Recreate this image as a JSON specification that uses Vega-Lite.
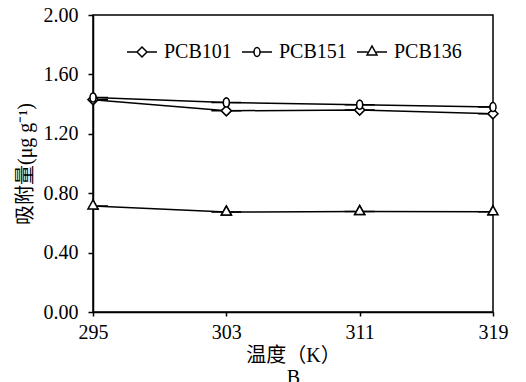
{
  "$schema": "https://vega.github.io/schema/vega-lite/v6.json",
  "width": 400,
  "height": 297,
  "autosize": "none",
  "padding": {"left": 93, "top": 15, "right": 33, "bottom": 70},
  "background": "white",
  "config": {
    "view": {"stroke": "black", "strokeWidth": 1.5},
    "font": "Times New Roman, Liberation Serif, serif",
    "axis": {
      "grid": false,
      "domainColor": "black",
      "domainWidth": 1.5,
      "tickColor": "black",
      "tickWidth": 1.5,
      "labelColor": "black",
      "titleColor": "black",
      "labelFont": "Times New Roman, Liberation Serif, serif",
      "titleFont": "Times New Roman, Liberation Serif, Noto Sans CJK SC, serif",
      "labelFontSize": 20,
      "titleFontSize": 20,
      "titleFontWeight": "normal",
      "labelFlush": false
    }
  },
  "data": {
    "values": [
      {"s": "PCB101", "T": 295, "v": 1.43},
      {"s": "PCB101", "T": 303, "v": 1.355},
      {"s": "PCB101", "T": 311, "v": 1.36},
      {"s": "PCB101", "T": 319, "v": 1.335},
      {"s": "PCB151", "T": 295, "v": 1.445},
      {"s": "PCB151", "T": 303, "v": 1.41},
      {"s": "PCB151", "T": 311, "v": 1.395},
      {"s": "PCB151", "T": 319, "v": 1.38},
      {"s": "PCB136", "T": 295, "v": 0.714},
      {"s": "PCB136", "T": 303, "v": 0.673},
      {"s": "PCB136", "T": 311, "v": 0.676},
      {"s": "PCB136", "T": 319, "v": 0.675}
    ]
  },
  "encoding": {
    "x": {
      "field": "T",
      "type": "quantitative",
      "scale": {"domain": [295, 319]},
      "axis": {
        "values": [295, 303, 311, 319],
        "title": ["温度（K）", "B"],
        "tickSize": 4,
        "labelPadding": 6,
        "titlePadding": 3,
        "titleLineHeight": 22
      }
    },
    "y": {
      "field": "v",
      "type": "quantitative",
      "scale": {"domain": [0, 2]},
      "axis": {
        "values": [0, 0.4, 0.8, 1.2, 1.6, 2.0],
        "format": ".2f",
        "title": "吸附量(μg g⁻¹)",
        "tickSize": 5,
        "labelPadding": 10,
        "titlePadding": 8
      }
    }
  },
  "layer": [
    {
      "mark": {"type": "line", "color": "black", "strokeWidth": 1.5},
      "encoding": {"detail": {"field": "s"}}
    },
    {
      "mark": {"type": "point", "filled": true, "fill": "white", "stroke": "black", "strokeWidth": 1.5, "size": 100, "opacity": 1, "clip": true},
      "encoding": {
        "shape": {
          "field": "s",
          "scale": {
            "domain": ["PCB101", "PCB151", "PCB136"],
            "range": [
              "M-3,0L-1,0M-1,0L0,-1L1,0L0,1ZM1,0L3,0",
              "M-3,0L-0.6,0M0,-0.9A0.6,0.9 0 1,1 0,0.9A0.6,0.9 0 1,1 0,-0.9ZM0.6,0L3,0",
              "M-3,0L-0.85,0M0.85,0L3,0M-1,0.6L0,-1.2L1,0.6Z"
            ]
          },
          "legend": {
            "orient": "none",
            "legendX": 39,
            "legendY": 27,
            "direction": "horizontal",
            "title": null,
            "padding": 0,
            "symbolSize": 100,
            "symbolStrokeWidth": 1.5,
            "labelFont": "Times New Roman, Liberation Serif, serif",
            "labelFontSize": 20,
            "labelColor": "black",
            "labelOffset": 12,
            "columnPadding": 7
          }
        }
      }
    },
    {
      "transform": [{"filter": {"field": "s", "equal": "PCB101"}}],
      "mark": {"type": "point", "filled": true, "fill": "white", "stroke": "black", "strokeWidth": 1.5, "size": 100, "opacity": 1, "shape": "M-1,0L0,-1L1,0L0,1Z"}
    },
    {
      "transform": [{"filter": {"field": "s", "equal": "PCB151"}}],
      "mark": {"type": "point", "filled": true, "fill": "white", "stroke": "black", "strokeWidth": 1.5, "size": 100, "opacity": 1, "shape": "M0,-0.9A0.6,0.9 0 1,1 0,0.9A0.6,0.9 0 1,1 0,-0.9Z"}
    },
    {
      "transform": [{"filter": {"field": "s", "equal": "PCB136"}}],
      "mark": {"type": "point", "filled": true, "fill": "white", "stroke": "black", "strokeWidth": 1.5, "size": 100, "opacity": 1, "shape": "M-1,0.6L0,-1.2L1,0.6Z"}
    }
  ]
}
